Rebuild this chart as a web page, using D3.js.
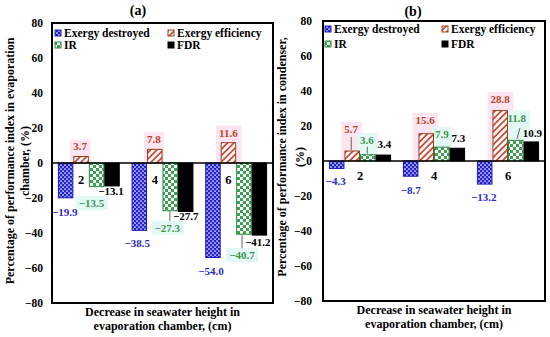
<!DOCTYPE html>
<html>
<head>
<meta charset="utf-8">
<script src="https://cdn.jsdelivr.net/npm/d3@7"></script>
<style>
  body { margin: 0; background: #fff; }
  svg text { font-family: "Liberation Serif", "DejaVu Serif", serif; font-weight: bold; }
</style>
</head>
<body>
<svg id="chart" width="550" height="337" font-family="Liberation Serif, DejaVu Serif, serif"></svg>
<script>
const categories  = ['2', '4', '6'];
const seriesNames = ['Exergy destroyed', 'Exergy efficiency', 'IR', 'FDR'];
const yTickValues = [-80, -60, -40, -20, 0, 20, 40, 60, 80];

// (a) evaporation chamber
const evapDestroyed  = [-19.9, -38.5, -54.0];
const evapEfficiency = [3.7, 7.8, 11.6];
const evapIR         = [-13.5, -27.3, -40.7];
const evapFDR        = [-13.1, -27.7, -41.2];

// (b) condenser
const condDestroyed  = [-4.3, -8.7, -13.2];
const condEfficiency = [5.7, 15.6, 28.8];
const condIR         = [3.6, 7.9, 11.8];
const condFDR        = [3.4, 7.3, 10.9];

// label nudges [dx, dy] from the bar end, per series then per category
const evapLabelShift = [
  [[-1, 14], [-2, 12.5], [-2, 13.5]],
  [[-1, -10], [-1, -10], [0, -10]],
  [[-5, 16.5], [-3, 17], [-2, 21]],
  [[-1, 5], [0, 4.5], [-1.5, 7]],
];
const condLabelShift = [
  [[-1, 13], [0, 13.5], [-1, 13]],
  [[-1, -22], [-1, -13.5], [0, -11.5]],
  [[-1, -14.5], [0, -13], [1, -22.5]],
  [[1, -11], [1, -10], [1, -9]],
];
// leader lines [dx1, dy1, dx2, dy2] from the bar end
const evapLeaders = [
  {s: 2, c: 1, d: [-0.3, 0.5, -0.3, 10]},
  {s: 2, c: 2, d: [-1.9, 1, -1.9, 14]},
];
const condLeaders = [
  {s: 1, c: 0, d: [-1, -1, -1, -14]},
  {s: 2, c: 0, d: [-0.5, -1, -0.5, -8]},
  {s: 2, c: 2, d: [1.2, -1.4, 4.2, -12.4]},
];

const seriesStyle = [
  {fill: 'url(#pat-ed)', stroke: '#1c1cb0', text: '#2a2ad0'},
  {fill: 'url(#pat-ee)', stroke: '#9a3f1e', text: '#b8442a', bg: '#fce4f0', bgTo: 'zero'},
  {fill: 'url(#pat-ir)', stroke: '#2e8743', text: '#3f9456', bg: '#e2f8f3', bgTo: 'bar'},
  {fill: '#000', stroke: '#000', text: '#000'},
];

const panels = [
  {
    id:        'a',
    title:     '(a)',
    titlePos:  [138, 15],
    frame:     {left: 52, right: 273, top: 23, bottom: 303},
    series:    [evapDestroyed, evapEfficiency, evapIR, evapFDR],
    shifts:    evapLabelShift,
    leaders:   evapLeaders,
    yTitle:    ['Percentage of performance index in evaporation', 'chamber, (%)'],
    yTitleX:   [14, 29],
    yTitleY:   161,
    xTitle:    ['Decrease in seawater height in', 'evaporation chamber, (cm)'],
    xTitleY:   [316, 330],
    tickPad:   9,
    catAtBar:  true,
    catY:      184,
    legendX:   [55, 168],
    legendY:   [37, 49],
  },
  {
    id:        'b',
    title:     '(b)',
    titlePos:  [413, 16],
    frame:     {left: 323, right: 545, top: 21, bottom: 301},
    series:    [condDestroyed, condEfficiency, condIR, condFDR],
    shifts:    condLabelShift,
    leaders:   condLeaders,
    yTitle:    ['Percentage of performance index in condenser,', '(%)'],
    yTitleX:   [286, 304],
    yTitleY:   157,
    xTitle:    ['Decrease in seawater height in', 'evaporation chamber, (cm)'],
    xTitleY:   [314, 328],
    tickPad:   11,
    catAtBar:  false,
    catY:      180,
    legendX:   [325, 442],
    legendY:   [33, 48],
  },
];

const svg  = d3.select('#chart');
const defs = svg.append('defs');

const pEd = defs.append('pattern').attr('id', 'pat-ed')
  .attr('patternUnits', 'userSpaceOnUse').attr('width', 4).attr('height', 4);
pEd.append('rect').attr('width', 4).attr('height', 4).attr('fill', '#2222d4');
pEd.append('circle').attr('cx', 1).attr('cy', 1).attr('r', 0.85).attr('fill', '#fff');
pEd.append('circle').attr('cx', 3).attr('cy', 3).attr('r', 0.85).attr('fill', '#fff');

const pEe = defs.append('pattern').attr('id', 'pat-ee')
  .attr('patternUnits', 'userSpaceOnUse').attr('width', 4.5).attr('height', 4.5)
  .attr('patternTransform', 'rotate(45)');
pEe.append('rect').attr('width', 4.5).attr('height', 4.5).attr('fill', '#fff');
pEe.append('line').attr('x1', 1).attr('x2', 1).attr('y1', 0).attr('y2', 4.5)
  .attr('stroke', '#c2402c').attr('stroke-width', 1.7);

const pIr = defs.append('pattern').attr('id', 'pat-ir')
  .attr('patternUnits', 'userSpaceOnUse').attr('width', 6).attr('height', 6);
pIr.append('rect').attr('width', 6).attr('height', 6).attr('fill', '#fff');
pIr.append('rect').attr('width', 3).attr('height', 3).attr('fill', '#3da153');
pIr.append('rect').attr('x', 3).attr('y', 3).attr('width', 3).attr('height', 3).attr('fill', '#3da153');

const fmt = d3.format('.1f');

function drawPanel(panel) {
  const f  = panel.frame;
  const g  = svg.append('g').attr('class', 'panel-' + panel.id);
  const x0 = d3.scaleBand().domain(categories).range([f.left, f.right])
    .paddingInner(0.16).paddingOuter(0.08);
  const x1 = d3.scaleBand().domain(d3.range(seriesNames.length)).range([0, x0.bandwidth()]);
  const y  = d3.scaleLinear().domain([-80, 80]).range([f.bottom, f.top]);
  const bw = x1.bandwidth();

  const rows = [];
  panel.series.forEach((vals, s) => vals.forEach((v, c) => rows.push({s, c, v})));
  const cx = d => x0(categories[d.c]) + x1(d.s) + bw / 2;

  const bgG   = g.append('g').classed('label-bg', true);
  const barsG = g.append('g').classed('bars', true);

  barsG.selectAll('rect').data(rows).join('rect')
    .attr('x', d => x0(categories[d.c]) + x1(d.s) + 0.5)
    .attr('y', d => Math.min(y(d.v), y(0)))
    .attr('width', bw - 1)
    .attr('height', d => Math.abs(y(d.v) - y(0)))
    .attr('fill', d => seriesStyle[d.s].fill)
    .attr('stroke', d => seriesStyle[d.s].stroke)
    .attr('stroke-width', 1);

  // zero line and frame
  g.append('line')
    .attr('x1', f.left).attr('x2', f.right).attr('y1', y(0)).attr('y2', y(0))
    .attr('stroke', '#000').attr('stroke-width', 1.5);
  g.append('rect')
    .attr('x', f.left).attr('y', f.top)
    .attr('width', f.right - f.left).attr('height', f.bottom - f.top)
    .attr('fill', 'none').attr('stroke', '#000').attr('stroke-width', 2);

  // y axis
  const axis = d3.axisLeft(y).tickValues(yTickValues).tickSize(0)
    .tickPadding(panel.tickPad).tickFormat(d3.format('d'));
  g.append('g').attr('transform', `translate(${f.left},0)`).call(axis)
    .attr('font-family', null)
    .call(a => a.select('.domain').remove())
    .selectAll('text').attr('font-size', 11.5).attr('fill', '#000');

  // category labels
  g.selectAll('text.cat').data(categories).join('text').classed('cat', true)
    .attr('x', c => panel.catAtBar ? x0(c) + x1(1) + bw / 2 : x0(c) + x0.bandwidth() / 2)
    .attr('y', panel.catY)
    .attr('text-anchor', 'middle').attr('font-size', 12.5)
    .text(c => c);

  // leader lines
  g.selectAll('line.leader').data(panel.leaders).join('line').classed('leader', true)
    .attr('x1', d => cx(d) + d.d[0]).attr('y1', d => y(panel.series[d.s][d.c]) + d.d[1])
    .attr('x2', d => cx(d) + d.d[2]).attr('y2', d => y(panel.series[d.s][d.c]) + d.d[3])
    .attr('stroke', '#555').attr('stroke-width', 0.9);

  // value labels
  const labels = g.selectAll('text.val').data(rows).join('text').classed('val', true)
    .attr('x', d => cx(d) + panel.shifts[d.s][d.c][0])
    .attr('y', d => y(d.v) + panel.shifts[d.s][d.c][1])
    .attr('dy', '0.35em')
    .attr('text-anchor', 'middle').attr('font-size', 11)
    .attr('fill', d => seriesStyle[d.s].text)
    .text(d => fmt(d.v));

  labels.each(function (d) {
    const st = seriesStyle[d.s];
    if (!st.bg) return;
    const b = this.getBBox();
    let top = b.y - 1, bottom = b.y + b.height + 1;
    if (st.bgTo === 'zero') bottom = y(0);
    if (st.bgTo === 'bar' && d.v > 0) bottom = y(d.v);
    bgG.append('rect')
      .attr('x', b.x - 3).attr('y', top)
      .attr('width', b.width + 6).attr('height', bottom - top)
      .attr('fill', st.bg);
  });

  // legend
  const leg = g.append('g').classed('legend', true);
  seriesNames.forEach((name, s) => {
    const lx = panel.legendX[s % 2];
    const ly = panel.legendY[Math.floor(s / 2)];
    leg.append('rect')
      .attr('x', lx).attr('y', ly - 7).attr('width', 6).attr('height', 6)
      .attr('fill', seriesStyle[s].fill).attr('stroke', seriesStyle[s].stroke).attr('stroke-width', 1);
    leg.append('text')
      .attr('x', lx + 9).attr('y', ly).attr('font-size', 11.5)
      .text(name);
  });

  // titles
  g.append('text').attr('x', panel.titlePos[0]).attr('y', panel.titlePos[1])
    .attr('text-anchor', 'middle').attr('font-size', 14).text(panel.title);

  panel.yTitle.forEach((t, i) => {
    g.append('text')
      .attr('transform', `translate(${panel.yTitleX[i]},${panel.yTitleY}) rotate(-90)`)
      .attr('text-anchor', 'middle').attr('font-size', 12).text(t);
  });

  panel.xTitle.forEach((t, i) => {
    g.append('text')
      .attr('x', (f.left + f.right) / 2).attr('y', panel.xTitleY[i])
      .attr('text-anchor', 'middle').attr('font-size', 12).text(t);
  });
}

panels.forEach(drawPanel);
</script>
</body>
</html>
